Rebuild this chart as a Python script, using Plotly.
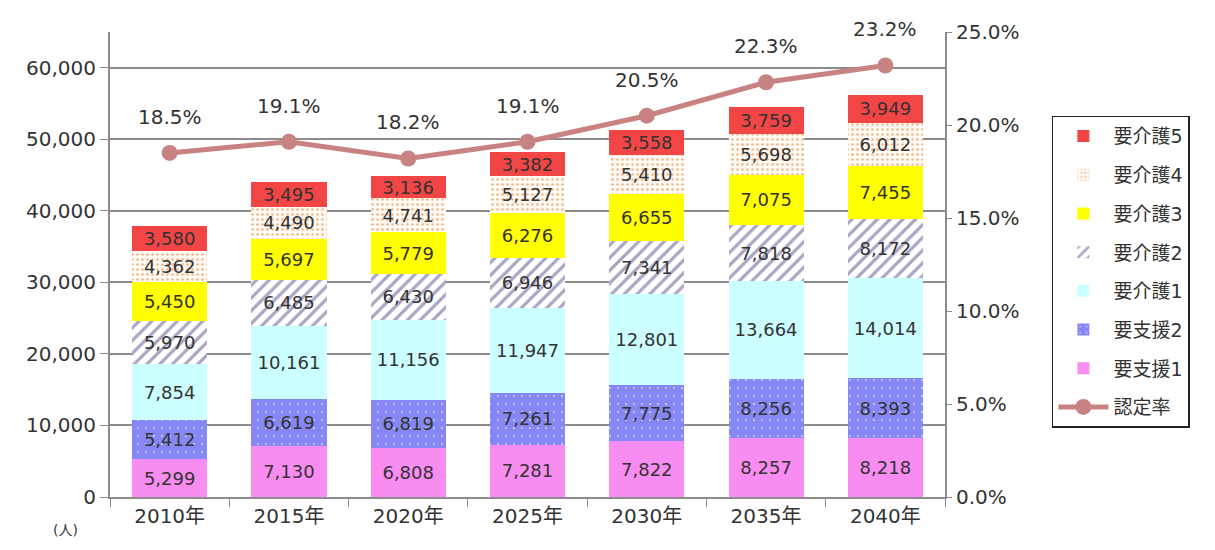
import plotly.graph_objects as go

years = ["2010年", "2015年", "2020年", "2025年", "2030年", "2035年", "2040年"]

shien1 = [5299, 7130, 6808, 7281, 7822, 8257, 8218]
shien2 = [5412, 6619, 6819, 7261, 7775, 8256, 8393]
kaigo1 = [7854, 10161, 11156, 11947, 12801, 13664, 14014]
kaigo2 = [5970, 6485, 6430, 6946, 7341, 7818, 8172]
kaigo3 = [5450, 5697, 5779, 6276, 6655, 7075, 7455]
kaigo4 = [4362, 4490, 4741, 5127, 5410, 5698, 6012]
kaigo5 = [3580, 3495, 3136, 3382, 3558, 3759, 3949]
rate = [18.5, 19.1, 18.2, 19.1, 20.5, 22.3, 23.2]

FONT = "DejaVu Sans, Noto Sans CJK JP, sans-serif"
TXT = "#333333"

# (name, values, colour, pattern dict, legend rank)
series = [
    ("要支援1", shien1, "#f98cf0", None, 7),
    ("要支援2", shien2, "#8686f4", dict(shape=".", fgcolor="#d0d0ff", size=8, solidity=0.06), 6),
    ("要介護1", kaigo1, "#ccffff", None, 5),
    ("要介護2", kaigo2, "#ffffff", dict(shape="/", fgcolor="#aaa3c4", size=9, solidity=0.35), 4),
    ("要介護3", kaigo3, "#ffff00", None, 3),
    ("要介護4", kaigo4, "#fffaf4", dict(shape=".", fgcolor="#f0b88a", size=5, solidity=0.2), 2),
    ("要介護5", kaigo5, "#f24545", None, 1),
]

fig = go.Figure()

for name, vals, color, pat, rank in series:
    marker = dict(color=color, line=dict(width=0))
    if pat:
        marker["pattern"] = dict(fillmode="replace", bgcolor=color, **pat)
    fig.add_trace(go.Bar(
        x=years, y=vals, name=name,
        marker=marker,
        text=[f"{v:,}" for v in vals],
        textposition="inside",
        insidetextanchor="middle",
        textangle=0,
        constraintext="none",
        textfont=dict(size=18, color=TXT, family=FONT),
        legendrank=rank, legendgroup=name,
    ))

fig.add_trace(go.Scatter(
    x=years, y=rate, name="認定率", yaxis="y2",
    mode="lines+markers",
    line=dict(color="#c98282", width=5),
    marker=dict(size=16, color="#c98282"),
    legendrank=8, legendgroup="rate",
))

for yr, r in zip(years, rate):
    fig.add_annotation(
        x=yr, y=r, yref="y2", text=f"{r:.1f}%", showarrow=False,
        yshift=36, font=dict(size=20, color=TXT, family=FONT),
    )

fig.add_annotation(
    x=-0.053, y=-0.072, xref="paper", yref="paper", xanchor="center", yanchor="middle",
    text="(人)", showarrow=False,
    font=dict(size=14, color=TXT, family=FONT),
)

fig.update_layout(
    width=1215, height=550,
    margin=dict(l=102, r=278, t=19, b=61),
    paper_bgcolor="white", plot_bgcolor="white",
    barmode="stack", bargap=0.37,
    font=dict(family=FONT, size=20, color=TXT),
    showlegend=True,
    legend=dict(
        x=1.128, y=0.82, xanchor="left", yanchor="top",
        traceorder="grouped",
        bordercolor="#222222", borderwidth=1.5,
        font=dict(size=19, color=TXT, family=FONT),
        tracegroupgap=11,
        itemwidth=50,
    ),
    xaxis=dict(
        showline=True, linecolor="#8c8c8c", linewidth=2,
        ticks="outside", tickson="boundaries", ticklen=8, tickcolor="#8c8c8c",
        tickfont=dict(size=20),
    ),
    yaxis=dict(
        range=[0, 65000], tickvals=[0, 10000, 20000, 30000, 40000, 50000, 60000],
        tickformat=",d",
        showline=True, linecolor="#8c8c8c", linewidth=2,
        ticks="outside", ticklen=8, tickcolor="#8c8c8c",
        showgrid=True, gridcolor="#8c8c8c", gridwidth=2,
        zeroline=False, tickfont=dict(size=20),
    ),
    yaxis2=dict(
        overlaying="y", side="right", range=[0, 25],
        tickvals=[0, 5, 10, 15, 20, 25], ticktext=[f"{v:.1f}%" for v in [0, 5, 10, 15, 20, 25]],
        showline=True, linecolor="#8c8c8c", linewidth=2,
        ticks="outside", ticklen=5, tickcolor="#8c8c8c",
        showgrid=False, zeroline=False, tickfont=dict(size=20),
    ),
)

fig.write_html("out.html")
